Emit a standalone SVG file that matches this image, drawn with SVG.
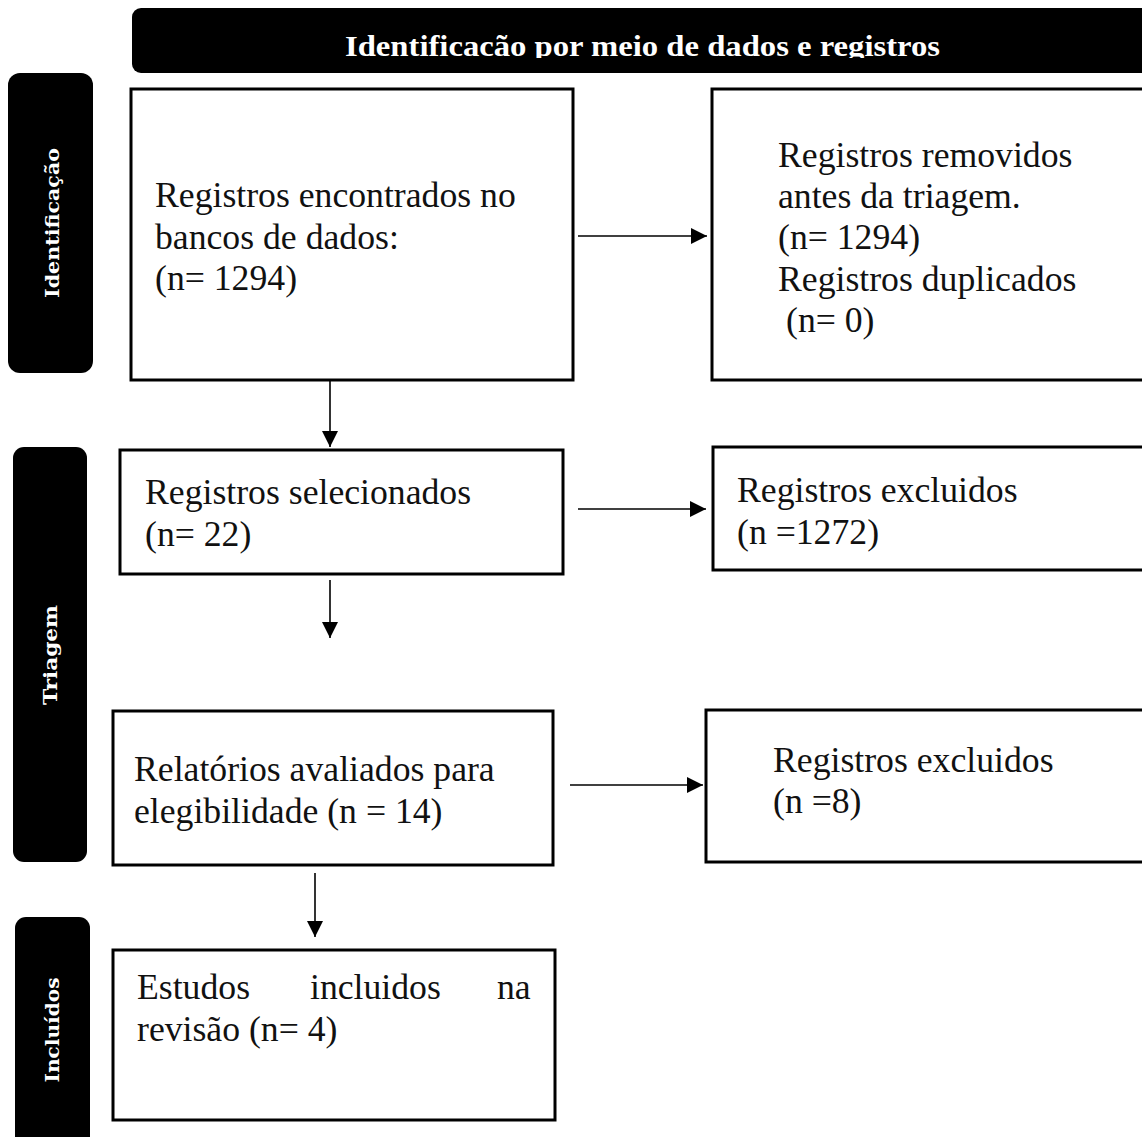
<svg xmlns="http://www.w3.org/2000/svg" width="1142" height="1137" viewBox="0 0 1142 1137">
<style>
.box{fill:#fff;stroke:#000;stroke-width:3}
.lab{fill:#000}
.t{font-family:"Liberation Serif","Times New Roman",serif;font-size:35.7px;fill:#111}
.lt{font-family:"DejaVu Serif",serif;font-weight:bold;font-size:19px;fill:#fff;text-anchor:middle}
.bt{font-family:"Liberation Serif","Times New Roman",serif;font-weight:bold;font-size:30px;fill:#fff}
.c{stroke:#000;stroke-width:1.6;fill:none;marker-end:url(#ah)}
</style>
<defs>
<marker id="ah" markerUnits="userSpaceOnUse" markerWidth="18" markerHeight="16" refX="16" refY="8" orient="auto">
<path d="M0,0 L16,8 L0,16 Z" fill="#000"/>
</marker>
<clipPath id="bclip"><rect x="132" y="8" width="1020" height="50"/></clipPath>
</defs>
<rect width="1142" height="1137" fill="#fff"/>

<g id="banner">
<rect x="132" y="8" width="1030" height="65" rx="9" fill="#000"/>
<text class="bt" x="345" y="56" textLength="595" lengthAdjust="spacingAndGlyphs" clip-path="url(#bclip)">Identificacão por meio de dados e registros</text>
</g>

<g id="lab-identificacao">
<rect class="lab" x="8" y="73" width="85" height="300" rx="12"/>
<text class="lt" transform="translate(59,223) rotate(-90)" textLength="150" lengthAdjust="spacingAndGlyphs">Identificação</text>
</g>
<g id="lab-triagem">
<rect class="lab" x="13" y="447" width="74" height="415" rx="11"/>
<text class="lt" transform="translate(57,655) rotate(-90)" textLength="100" lengthAdjust="spacingAndGlyphs">Triagem</text>
</g>
<g id="lab-incluidos">
<rect class="lab" x="15" y="917" width="75" height="240" rx="11"/>
<text class="lt" transform="translate(59,1030) rotate(-90)" textLength="105" lengthAdjust="spacingAndGlyphs">Incluídos</text>
</g>

<g id="n1">
<rect class="box" x="131" y="89" width="442" height="291"/>
<text class="t" x="155" y="207">Registros encontrados no</text>
<text class="t" x="155" y="249">bancos de dados:</text>
<text class="t" x="155" y="290">(n= 1294)</text>
</g>
<g id="n2">
<rect class="box" x="712" y="89" width="440" height="291"/>
<text class="t" x="778" y="167">Registros removidos</text>
<text class="t" x="778" y="208">antes da triagem.</text>
<text class="t" x="778" y="249">(n= 1294)</text>
<text class="t" x="778" y="291">Registros duplicados</text>
<text class="t" x="786" y="332">(n= 0)</text>
</g>
<g id="n3">
<rect class="box" x="120" y="450" width="443" height="124"/>
<text class="t" x="145" y="504">Registros selecionados</text>
<text class="t" x="145" y="546">(n= 22)</text>
</g>
<g id="n4">
<rect class="box" x="713" y="447" width="440" height="123"/>
<text class="t" x="737" y="502">Registros excluidos</text>
<text class="t" x="737" y="544">(n =1272)</text>
</g>
<g id="n5">
<rect class="box" x="113" y="711" width="440" height="154"/>
<text class="t" x="134" y="781">Relatórios avaliados para</text>
<text class="t" x="134" y="823">elegibilidade (n = 14)</text>
</g>
<g id="n6">
<rect class="box" x="706" y="710" width="446" height="152"/>
<text class="t" x="773" y="772">Registros excluidos</text>
<text class="t" x="773" y="813">(n =8)</text>
</g>
<g id="n7">
<rect class="box" x="113" y="950" width="442" height="170"/>
<text class="t" x="137" y="999">Estudos</text>
<text class="t" x="310" y="999">incluidos</text>
<text class="t" x="497" y="999">na</text>
<text class="t" x="137" y="1041">revisão (n= 4)</text>
</g>

<g id="connectors">
<line class="c" x1="578" y1="236" x2="707" y2="236"/>
<line class="c" x1="330" y1="381" x2="330" y2="447"/>
<line class="c" x1="578" y1="509" x2="706" y2="509"/>
<line class="c" x1="330" y1="580" x2="330" y2="638"/>
<line class="c" x1="570" y1="785" x2="703" y2="785"/>
<line class="c" x1="315" y1="873" x2="315" y2="937"/>
</g>
</svg>
